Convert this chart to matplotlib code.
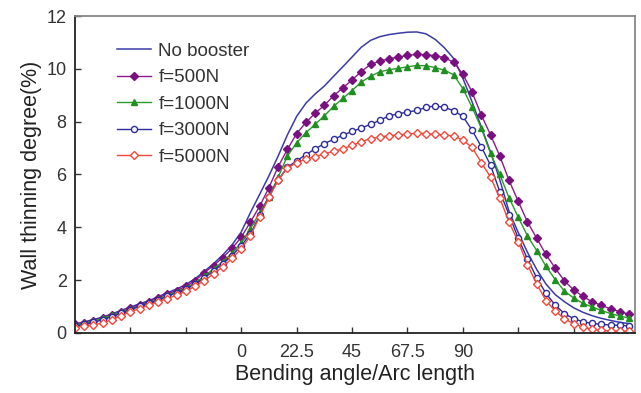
import matplotlib
matplotlib.use("Agg")
import matplotlib.pyplot as plt

plt.rcParams['font.family'] = ['Liberation Sans', 'DejaVu Sans']

# bending angle / arc length positions (degrees, arc part extended both sides)
x = [-67.5, -63.75, -60, -56.25, -52.5, -48.75, -45, -41.25, -37.5, -33.75,
     -30, -26.25, -22.5, -18.75, -15, -11.25, -7.5, -3.75, 0, 3.75,
     7.5, 11.25, 15, 18.75, 22.5, 26.25, 30, 33.75, 37.5, 41.25,
     45, 48.75, 52.5, 56.25, 60, 63.75, 67.5, 71.25, 75, 78.75,
     82.5, 86.25, 90, 93.75, 97.5, 101.25, 105, 108.75, 112.5, 116.25,
     120, 123.75, 127.5, 131.25, 135, 138.75, 142.5, 146.25, 150, 153.75,
     157.5]

no_booster = [0.33, 0.42, 0.5, 0.6, 0.72, 0.85, 0.98, 1.1, 1.22, 1.37,
              1.52, 1.66, 1.83, 2.05, 2.33, 2.62, 2.95, 3.33, 3.82, 4.56,
              5.25, 5.95, 6.7, 7.5, 8.2, 8.7, 9.05, 9.35, 9.72, 10.08,
              10.45, 10.82, 11.08, 11.22, 11.3, 11.35, 11.39, 11.4, 11.33, 11.12,
              10.8, 10.4, 9.65, 8.75, 7.8, 6.85, 5.8, 4.6, 3.8, 3.05,
              2.4, 1.85, 1.45, 1.18, 0.95, 0.78, 0.65, 0.55, 0.47, 0.4,
              0.35]

f500 = [0.32, 0.39, 0.46, 0.55, 0.66, 0.8, 0.94, 1.05, 1.17, 1.33,
        1.47, 1.6, 1.76, 1.98, 2.28, 2.55, 2.85, 3.2, 3.62, 4.2,
        4.8, 5.5, 6.3, 6.95, 7.55, 7.97, 8.32, 8.62, 8.98, 9.28,
        9.58, 9.9, 10.17, 10.3, 10.38, 10.45, 10.51, 10.55, 10.54, 10.5,
        10.43, 10.25, 9.8, 9.12, 8.25, 7.5, 6.7, 5.78, 4.98, 4.2,
        3.58, 2.97, 2.45, 1.97, 1.63, 1.38, 1.18, 1.04, 0.91, 0.8,
        0.71]

f1000 = [0.3, 0.36, 0.44, 0.55, 0.66, 0.78, 0.9, 1.02, 1.14, 1.28,
         1.42, 1.55, 1.7, 1.9, 2.15, 2.42, 2.7, 3.02, 3.42, 3.95,
         4.55, 5.16, 5.9, 6.7, 7.2, 7.58, 7.9, 8.22, 8.58, 8.88,
         9.18, 9.5, 9.72, 9.89, 9.97, 10.02, 10.08, 10.13, 10.12, 10.05,
         9.95, 9.78, 9.25, 8.55, 7.75, 6.8, 6.0, 5.12, 4.38, 3.67,
         3.12, 2.52, 2.02, 1.58, 1.32, 1.12, 0.98, 0.85, 0.73, 0.64,
         0.56]

f3000 = [0.25, 0.32, 0.4, 0.5, 0.62, 0.75, 0.88, 1.0, 1.12, 1.25,
         1.38, 1.52, 1.66, 1.85, 2.08, 2.35, 2.62, 2.92, 3.3, 3.75,
         4.45, 5.16, 5.8, 6.27, 6.52, 6.75, 6.97, 7.17, 7.33, 7.49,
         7.63, 7.76, 7.9, 8.05, 8.22, 8.3, 8.36, 8.43, 8.54, 8.6,
         8.54, 8.42, 8.2, 7.68, 7.05, 6.35, 5.35, 4.48, 3.58, 2.8,
         2.08, 1.5, 1.05, 0.73, 0.54, 0.42, 0.36, 0.32, 0.3, 0.28,
         0.27]

f5000 = [0.2, 0.27, 0.3, 0.38, 0.5, 0.65, 0.8, 0.92, 1.05, 1.18,
         1.3, 1.43, 1.57, 1.76, 1.98, 2.24, 2.5, 2.82, 3.18, 3.68,
         4.4, 5.13, 5.78, 6.25, 6.45, 6.58, 6.68, 6.78, 6.88, 6.97,
         7.1, 7.24, 7.36, 7.42, 7.47, 7.5, 7.53, 7.56, 7.55, 7.52,
         7.5, 7.46, 7.3, 7.03, 6.45, 5.9, 5.1, 4.2, 3.45, 2.58,
         1.85, 1.22, 0.83, 0.53, 0.35, 0.22, 0.14, 0.09, 0.07, 0.06,
         0.06]

xticks = [-45, -22.5, 0, 22.5, 45, 67.5, 90, 112.5, 135]
xtick_labels = ['', '', '0', '22.5', '45', '67.5', '90', '', '']
yticks = [0, 2, 4, 6, 8, 10, 12]

fig = plt.figure(figsize=(6.41, 3.93), dpi=100)
ax = fig.add_axes([0.117, 0.153, 0.874, 0.806])

ax.plot(x, no_booster, color='#3b3ba8', lw=1.1, label='No booster')
ax.plot(x, f500, color='#8a1c8c', lw=1.0, marker='D', ms=4.0,
        mfc='#7a1080', mec='#7a1080', label='f=500N')
ax.plot(x, f1000, color='#2a9a2a', lw=1.0, marker='^', ms=5.0,
        mfc='#1f8f1f', mec='#1f8f1f', label='f=1000N')
ax.plot(x, f3000, color='#2c2c9c', lw=1.0, marker='o', ms=4.4,
        mfc='white', mec='#2c2c9c', mew=1.0, label='f=3000N')
ax.plot(x, f5000, color='#ef4a3c', lw=1.0, marker='D', ms=4.4,
        mfc='white', mec='#ef4a3c', mew=1.0, label='f=5000N')

ax.set_xlim(-67.5, 160)
ax.set_ylim(0, 12)
ax.set_xticks(xticks)
ax.set_xticklabels(xtick_labels)
ax.set_yticks(yticks)
ax.tick_params(direction='in', length=4, width=1, labelsize=13,
               colors='#333333')
ax.tick_params(axis='x', pad=8)
ax.tick_params(axis='y', pad=6)

for s in ['left', 'bottom']:
    ax.spines[s].set_color('#222222')
    ax.spines[s].set_linewidth(1.3)
for s in ['top', 'right']:
    ax.spines[s].set_color('#888888')
    ax.spines[s].set_linewidth(1.3)

ax.set_xlabel('Bending angle/Arc length', fontsize=15.5, color='#222222',
              labelpad=2)
ax.set_ylabel('Wall thinning degree(%)', fontsize=15.5, color='#222222',
              labelpad=3)

ax.legend(loc='upper left', bbox_to_anchor=(0.045, 0.97), frameon=False,
          fontsize=13.5, handlelength=1.8, labelspacing=0.5,
          handletextpad=0.4, labelcolor='#333333')

fig.savefig('out.png', dpi=100)
